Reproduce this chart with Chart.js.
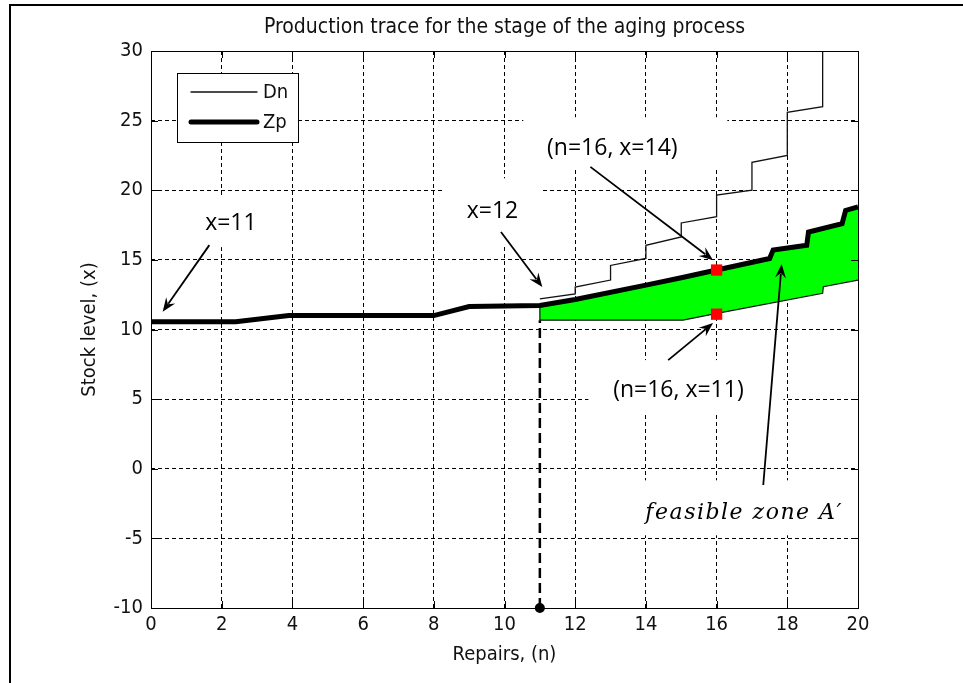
<!DOCTYPE html>
<html>
<head>
<meta charset="utf-8">
<script src="https://cdn.jsdelivr.net/npm/chart.js@4/dist/chart.umd.min.js"></script>
<style>
  html, body { margin: 0; padding: 0; background: #fff; overflow: hidden; }
  canvas { display: block; }
</style>
</head>
<body>
<canvas id="myChart"></canvas>
<script>
// canvas
var canvas = document.getElementById("myChart");
canvas.width = 963;
canvas.height = 683;

// Dn: upper stepped curve
const dnRepairs = [11, 12, 12, 13, 13, 14, 14, 15, 15, 16, 16, 17, 17, 18, 18, 19, 19];
const dnStock   = [12.2, 12.55, 13.05, 13.55, 14.6, 15.1, 16.05, 16.65, 17.65, 18.1, 19.65, 20.0, 22.0, 22.5, 25.6, 26.0, 30];

// Zp: production trace (thick)
const zpRepairs = [0, 2.4, 3.9, 8.0, 9.0, 11, 12, 14, 15, 16, 17.5, 17.6, 18.55, 18.6, 19.55, 19.65, 20];
const zpStock   = [10.55, 10.55, 11.0, 11.0, 11.65, 11.72, 12.15, 13.19, 13.72, 14.27, 15.1, 15.7, 16.05, 17.0, 17.6, 18.55, 18.8];

// lower edge of the feasible zone
const zoneLowRepairs = [11, 15.05, 15.9, 19.0, 19.02, 20];
const zoneLowStock   = [10.67, 10.67, 11.1, 12.6, 13.07, 13.55];

// red marks
const markRepairs = [16, 16];
const markStock   = [14.27, 11.1];

// ticks
const xTickValues = [0, 2, 4, 6, 8, 10, 12, 14, 16, 18, 20];
const yTickValues = [-10, -5, 0, 5, 10, 15, 20, 25, 30];

const FONT = '"DejaVu Sans Condensed", "Liberation Sans Narrow", "DejaVu Sans", sans-serif';
const NOTE_FONT = '"Open Sans", sans-serif';

// text notes: text centre (data), white box [dx, dy, w, h] in px, arrow from/to (data)
const notes = [
  { text: 'x=11', at: [2.26, 17.64], box: [0, -2, 80, 52], from: [1.65, 16.06], to: [0.33, 11.27] },
  { text: 'x=12', at: [9.66, 18.45], box: [0, 0, 101, 67], from: [9.9, 17.0], to: [11.07, 13.05] },
  { text: '(n=16, x=14)', at: [13.05, 23.02], box: [13, -5.5, 204, 51], from: [12.43, 21.68], to: [15.9, 14.98] },
  { text: '(n=16, x=11)', at: [14.92, 5.65], box: [7.5, -4, 195, 52], from: [14.63, 7.8], to: [15.9, 10.46] },
  { text: 'feasible zone A\u2032', at: [16.78, -3.2], box: [0, -5.5, 212, 55], from: [17.32, -1.17], to: [17.84, 14.7], italic: true }
];

function pts(xs, ys) {
  return xs.map(function (v, i) { return { x: v, y: ys[i] }; });
}

var zoneTop = pts(zpRepairs, zpStock).filter(function (p) { return p.x >= 11; });
var zpAt11 = zpStock[zpRepairs.indexOf(11)];

function drawArrow(ctx, x1, y1, x2, y2) {
  var a = Math.atan2(y2 - y1, x2 - x1);
  var L = 14, W = 5.5;
  var c = Math.cos(a), s = Math.sin(a);
  ctx.beginPath();
  ctx.moveTo(x1, y1);
  ctx.lineTo(x2 - L * 0.7 * c, y2 - L * 0.7 * s);
  ctx.stroke();
  ctx.beginPath();
  ctx.moveTo(x2, y2);
  ctx.lineTo(x2 - L * c - W * s, y2 - L * s + W * c);
  ctx.lineTo(x2 - L * 0.65 * c, y2 - L * 0.65 * s);
  ctx.lineTo(x2 - L * c + W * s, y2 - L * s - W * c);
  ctx.closePath();
  ctx.fill();
}

var notePlugin = {
  id: 'notes',
  beforeDatasetsDraw: function (chart) {
    var ctx = chart.ctx, xs = chart.scales.x, ys = chart.scales.y;
    ctx.save();
    ctx.fillStyle = '#fff';
    notes.forEach(function (n) {
      var cx = xs.getPixelForValue(n.at[0]) + n.box[0];
      var cy = ys.getPixelForValue(n.at[1]) + n.box[1];
      ctx.fillRect(cx - n.box[2] / 2, cy - n.box[3] / 2, n.box[2], n.box[3]);
    });
    ctx.restore();
  },
  afterDatasetsDraw: function (chart) {
    var ctx = chart.ctx, xs = chart.scales.x, ys = chart.scales.y, a = chart.chartArea;
    ctx.save();

    // arrows + texts
    ctx.strokeStyle = '#000';
    ctx.fillStyle = '#000';
    ctx.lineWidth = 1.8;
    notes.forEach(function (n) {
      drawArrow(ctx, xs.getPixelForValue(n.from[0]), ys.getPixelForValue(n.from[1]),
                xs.getPixelForValue(n.to[0]), ys.getPixelForValue(n.to[1]));
      if (n.italic) {
        ctx.font = 'italic 22px "DejaVu Serif", serif';
        ctx.letterSpacing = '1.5px';
      } else {
        ctx.font = '23px ' + NOTE_FONT;
        ctx.letterSpacing = '0px';
      }
      ctx.textAlign = 'center';
      ctx.textBaseline = 'middle';
      ctx.fillText(n.text, xs.getPixelForValue(n.at[0]), ys.getPixelForValue(n.at[1]));
    });
    ctx.letterSpacing = '0px';

    // legend
    var ds = chart.data.datasets;
    var lx = a.left + 26, ly = a.top + 22;
    ctx.fillStyle = '#fff';
    ctx.fillRect(lx, ly, 121, 69);
    ctx.lineWidth = 1;
    ctx.strokeStyle = '#000';
    ctx.strokeRect(lx + 0.5, ly + 0.5, 121, 69);
    [0, 1].forEach(function (k, i) {
      var y = ly + 19 + i * 30;
      ctx.lineWidth = ds[k].borderWidth;
      ctx.strokeStyle = ds[k].borderColor;
      ctx.lineCap = 'round';
      ctx.beginPath();
      ctx.moveTo(lx + 14, y);
      ctx.lineTo(lx + 80, y);
      ctx.stroke();
      ctx.fillStyle = '#111';
      ctx.font = '20px ' + FONT;
      ctx.textAlign = 'left';
      ctx.textBaseline = 'middle';
      ctx.fillText(ds[k].label, lx + 86, y + 1);
    });

    // plot frame with inward ticks
    ctx.lineCap = 'butt';
    ctx.lineWidth = 1;
    ctx.strokeStyle = '#000';
    ctx.strokeRect(a.left + 0.5, a.top + 0.5, a.right - a.left, a.bottom - a.top);
    ctx.beginPath();
    xTickValues.forEach(function (v) {
      var px = Math.round(xs.getPixelForValue(v)) + 0.5;
      ctx.moveTo(px, a.bottom); ctx.lineTo(px, a.bottom - 7);
      ctx.moveTo(px, a.top); ctx.lineTo(px, a.top + 7);
    });
    yTickValues.forEach(function (v) {
      var py = Math.round(ys.getPixelForValue(v)) + 0.5;
      ctx.moveTo(a.left, py); ctx.lineTo(a.left + 7, py);
      ctx.moveTo(a.right, py); ctx.lineTo(a.right - 7, py);
    });
    ctx.stroke();
    ctx.restore();
  },
  afterDraw: function (chart) {
    // outer figure frame: only top and left edges are inside the picture
    var ctx = chart.ctx;
    ctx.save();
    ctx.fillStyle = '#000';
    ctx.fillRect(9, 4, chart.width - 9, 2);
    ctx.fillRect(9, 4, 2, chart.height - 4);
    ctx.restore();
  }
};

var myChart = new Chart(canvas, {
  type: 'line',
  data: {
    datasets: [
      {
        label: 'Dn',
        data: pts(dnRepairs, dnStock),
        borderColor: '#111',
        borderWidth: 1.3,
        pointRadius: 0,
        fill: false,
        order: 2
      },
      {
        label: 'Zp',
        data: pts(zpRepairs, zpStock),
        borderColor: '#000',
        borderWidth: 5,
        pointRadius: 0,
        fill: false,
        order: 1
      },
      {
        label: 'zone low',
        data: pts(zoneLowRepairs, zoneLowStock),
        borderColor: '#111',
        borderWidth: 1.2,
        pointRadius: 0,
        fill: false,
        order: 3
      },
      {
        label: 'zone fill',
        data: zoneTop,
        borderColor: '#00ff00',
        borderWidth: 1,
        backgroundColor: '#00ff00',
        pointRadius: 0,
        fill: { target: 2, above: '#00ff00', below: '#00ff00' },
        order: 4
      },
      {
        label: 'zone edge',
        data: [{ x: 11, y: zoneLowStock[0] }, { x: 11, y: zpAt11 }],
        borderColor: '#111',
        borderWidth: 1.2,
        pointRadius: 0,
        fill: false,
        order: 3
      },
      {
        label: 'n=11',
        data: [{ x: 11, y: -10 }, { x: 11, y: zoneLowStock[0] }],
        borderColor: '#000',
        borderWidth: 2.5,
        borderDash: [10, 5],
        pointRadius: [5, 0],
        pointBackgroundColor: '#000',
        pointBorderWidth: 0,
        fill: false,
        clip: false,
        order: 3
      },
      {
        label: 'marks',
        data: pts(markRepairs, markStock),
        showLine: false,
        pointStyle: 'rect',
        pointRadius: 8,
        pointBackgroundColor: '#ff0000',
        pointBorderWidth: 0,
        order: 0
      }
    ]
  },
  options: {
    responsive: false,
    animation: false,
    layout: { padding: { left: 0, right: 105, top: 0, bottom: 0 } },
    plugins: {
      legend: { display: false },
      tooltip: { enabled: false },
      title: {
        display: true,
        fullSize: false,
        text: 'Production trace for the stage of the aging process',
        color: '#111',
        font: { family: FONT, size: 21, weight: 'normal' },
        padding: { top: 15, bottom: 10.8 }
      }
    },
    scales: {
      x: {
        type: 'linear',
        min: 0,
        max: 20,
        afterBuildTicks: function (s) { s.ticks = xTickValues.map(function (v) { return { value: v }; }); },
        afterFit: function (s) { s.height = 75; },
        grid: { color: '#000', lineWidth: 1, drawTicks: false },
        border: { display: false, dash: [4, 3] },
        ticks: { color: '#111', font: { family: FONT, size: 20 }, padding: 5, maxRotation: 0, autoSkip: false },
        title: { display: true, text: 'Repairs, (n)', color: '#111', font: { family: FONT, size: 20 }, padding: { top: 0, bottom: 16 } }
      },
      y: {
        type: 'linear',
        min: -10,
        max: 30,
        afterBuildTicks: function (s) { s.ticks = yTickValues.map(function (v) { return { value: v }; }); },
        afterFit: function (s) { s.width = 151; },
        grid: { color: '#000', lineWidth: 1, drawTicks: false },
        border: { display: false, dash: [4, 3] },
        ticks: { color: '#111', font: { family: FONT, size: 20 }, padding: 8, autoSkip: false },
        title: { display: true, text: 'Stock level, (x)', color: '#111', font: { family: FONT, size: 20 }, padding: { top: 78, bottom: 0 } }
      }
    }
  },
  plugins: [notePlugin]
});
</script>
</body>
</html>
